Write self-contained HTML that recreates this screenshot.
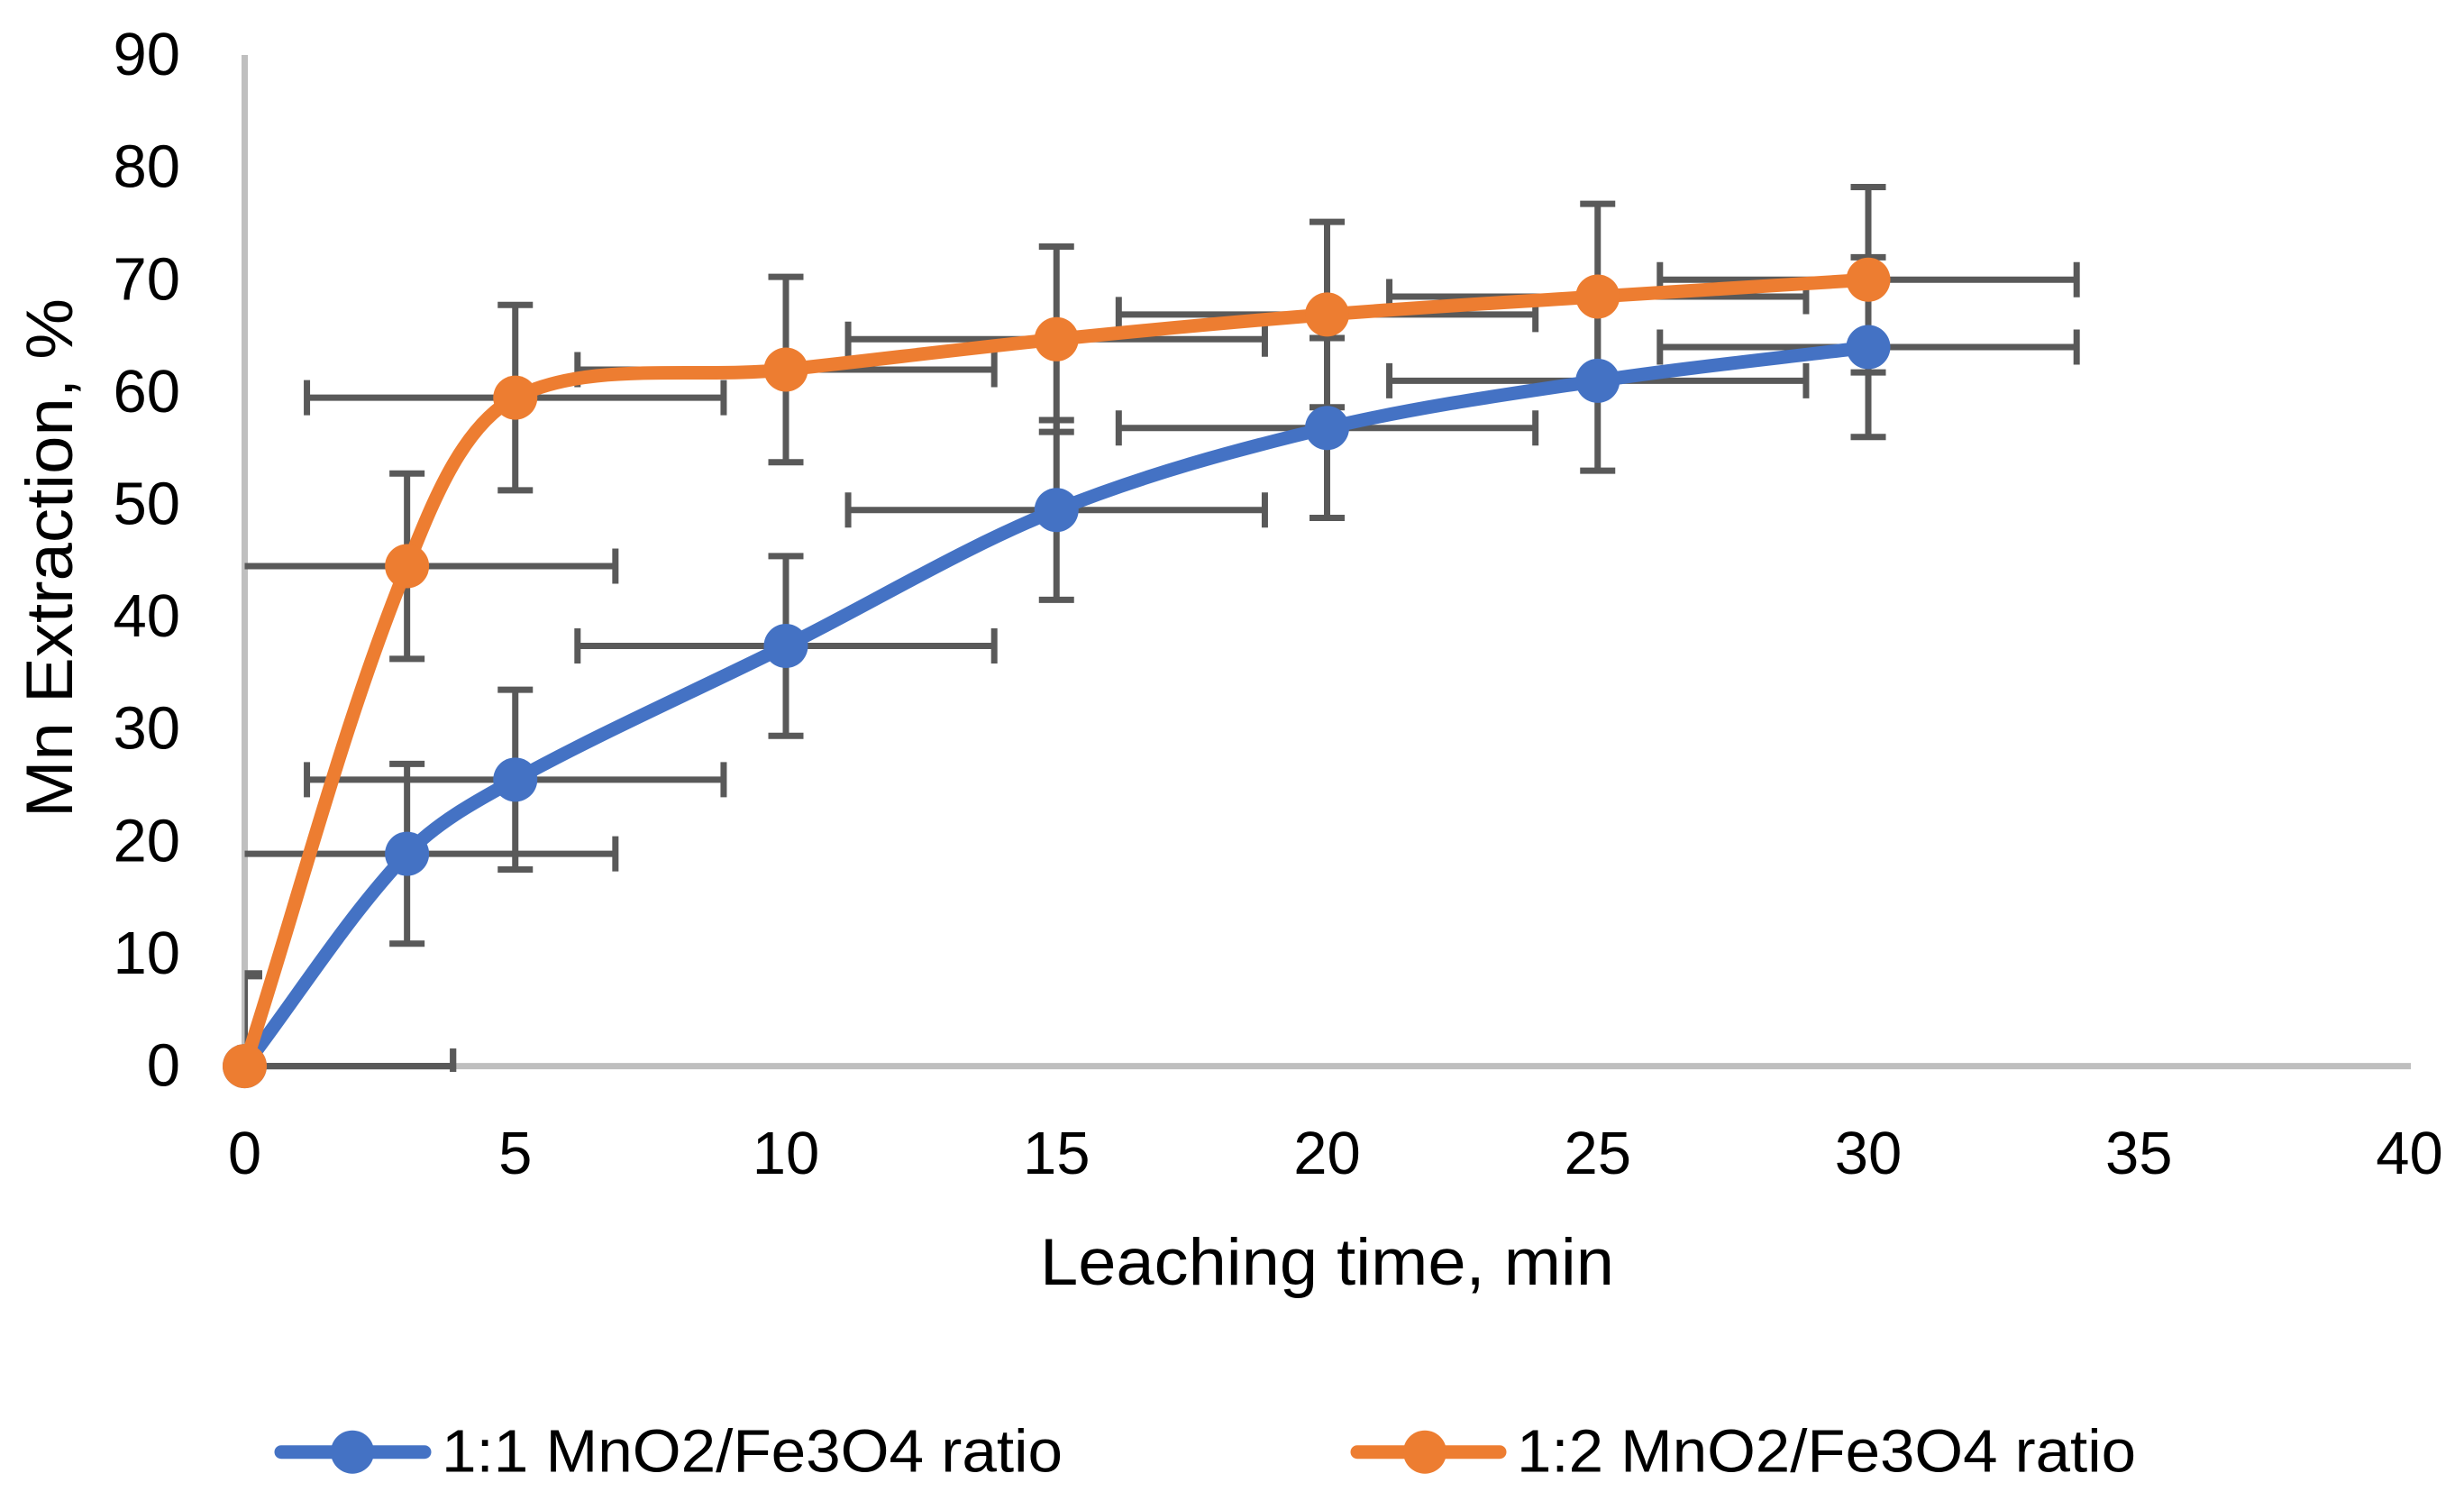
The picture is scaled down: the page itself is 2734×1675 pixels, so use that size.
<!DOCTYPE html>
<html lang="en">
<head>
<meta charset="utf-8">
<title>Mn Extraction vs Leaching time</title>
<style>
html,body{margin:0;padding:0;background:#fff;width:2734px;height:1675px;overflow:hidden}
svg{display:block}
text{font-family:"Liberation Sans",sans-serif;fill:#000}
</style>
</head>
<body>
<svg id="chart" xmlns="http://www.w3.org/2000/svg" width="2734" height="1675" viewBox="0 0 2734 1675">
  <rect x="0" y="0" width="2734" height="1675" fill="#ffffff"/>
  <defs>
    <clipPath id="plot-clip"><rect x="271.5" y="0" width="2440" height="1189"/></clipPath>
  </defs>
  <line x1="271.5" y1="61" x2="271.5" y2="1186" stroke="#BFBFBF" stroke-width="7"/>
  <line x1="268" y1="1182.6" x2="2675" y2="1182.6" stroke="#BFBFBF" stroke-width="7"/>
  <g id="y-ticks"></g>
  <g id="x-ticks"></g>
  <g id="error-bars" clip-path="url(#plot-clip)"></g>
  <g id="series"></g>
  <text x="1154" y="1425" font-size="73" textLength="637" lengthAdjust="spacingAndGlyphs">Leaching time, min</text>
  <text transform="translate(80,907) rotate(-90)" x="0" y="0" font-size="73" textLength="576" lengthAdjust="spacingAndGlyphs">Mn Extraction, %</text>
  <g>
    <g>
      <line x1="312" y1="1610.7" x2="471" y2="1610.7" stroke="#4472C4" stroke-width="15" stroke-linecap="round"/>
      <circle cx="391" cy="1610.7" r="24" fill="#4472C4"/>
      <text x="490" y="1632.7" font-size="67" textLength="689" lengthAdjust="spacingAndGlyphs">1:1 MnO2/Fe3O4 ratio</text>
    </g>
    <g>
      <line x1="1506" y1="1610.7" x2="1664" y2="1610.7" stroke="#ED7D31" stroke-width="15" stroke-linecap="round"/>
      <circle cx="1581" cy="1610.7" r="24" fill="#ED7D31"/>
      <text x="1683" y="1632.7" font-size="67" textLength="687" lengthAdjust="spacingAndGlyphs">1:2 MnO2/Fe3O4 ratio</text>
    </g>
  </g>
</svg>
<script>
const times = [0, 3, 5, 10, 15, 20, 25, 30];
const ratio11 = [0, 18.9, 25.5, 37.4, 49.5, 56.8, 61, 64];
const ratio12 = [0, 44.5, 59.5, 62, 64.7, 66.9, 68.5, 70];
const xError = [3.85];
const ratio11YError = [8];
const ratio12YError = [8.25];
const xTickLabels = [0, 5, 10, 15, 20, 25, 30, 35, 40];
const yTickLabels = [0, 10, 20, 30, 40, 50, 60, 70, 80, 90];

const NS = 'http://www.w3.org/2000/svg';
const xScale = v => 271.5 + v * 60.05;
const yScale = v => 1182.6 - v * 12.462;
const capHalf = 19.5;

function make(tag, attrs, parent) {
  const el = document.createElementNS(NS, tag);
  for (const k in attrs) el.setAttribute(k, attrs[k]);
  parent.appendChild(el);
  return el;
}

const yTicksGroup = document.getElementById('y-ticks');
yTickLabels.forEach(v => {
  const el = make('text', {x: 200, y: yScale(v) + 22, 'font-size': 67, 'text-anchor': 'end'}, yTicksGroup);
  
  
  el.textContent = v;
});

const xTicksGroup = document.getElementById('x-ticks');
xTickLabels.forEach(v => {
  const el = make('text', {x: xScale(v), y: 1302, 'font-size': 67, 'text-anchor': 'middle'}, xTicksGroup);
  
  
  el.textContent = v;
});

function drawErrors(values, yErr, key) {
  const group = document.getElementById('error-bars');
  const style = {stroke: '#595959', 'stroke-width': 7, fill: 'none'};
  times.forEach((t, i) => {
    const cx = xScale(t), cy = yScale(values[i]);
    const xl = xScale(t - xError[0]), xr = xScale(t + xError[0]);
    const yt = yScale(values[i] + yErr), yb = yScale(values[i] - yErr);
    const d = 'M' + xl + ' ' + cy + 'H' + xr +
      'M' + xl + ' ' + (cy - capHalf) + 'V' + (cy + capHalf) +
      'M' + xr + ' ' + (cy - capHalf) + 'V' + (cy + capHalf) +
      'M' + cx + ' ' + yt + 'V' + yb +
      'M' + (cx - capHalf) + ' ' + yt + 'H' + (cx + capHalf) +
      'M' + (cx - capHalf) + ' ' + yb + 'H' + (cx + capHalf);
    const el = make('path', Object.assign({d: d}, style), group);
    
    
  });
}

function dist(a, b) {
  return Math.hypot(a[0] - b[0], a[1] - b[1]);
}

function smoothPath(values) {
  const pts = times.map((t, i) => [xScale(t), yScale(values[i])]);
  let d = 'M' + pts[0][0] + ' ' + pts[0][1];
  for (let i = 0; i < pts.length - 1; i++) {
    const p0 = pts[Math.max(i - 1, 0)], p1 = pts[i], p2 = pts[i + 1], p3 = pts[Math.min(i + 2, pts.length - 1)];
    const d01 = dist(p0, p1), d12 = dist(p1, p2), d23 = dist(p2, p3);
    const s1 = d12 / (d01 + d12) / 3, s2 = d12 / (d12 + d23) / 3;
    const c1x = p1[0] + (p2[0] - p0[0]) * s1, c1y = p1[1] + (p2[1] - p0[1]) * s1;
    const c2x = p2[0] - (p3[0] - p1[0]) * s2, c2y = p2[1] - (p3[1] - p1[1]) * s2;
    d += 'C' + c1x + ' ' + c1y + ' ' + c2x + ' ' + c2y + ' ' + p2[0] + ' ' + p2[1];
  }
  return d;
}

function drawSeries(values, color, key) {
  const group = document.getElementById('series');
  const line = make('path', {d: smoothPath(values), fill: 'none', stroke: color, 'stroke-width': 15, 'stroke-linecap': 'round', 'stroke-linejoin': 'round'}, group);
  
  
  times.forEach((t, i) => {
    const c = make('circle', {cx: xScale(t), cy: yScale(values[i]), r: 24.5, fill: color}, group);
    
    
  });
}

drawErrors(ratio11, ratio11YError[0], 'ratio-1-1');
drawErrors(ratio12, ratio12YError[0], 'ratio-1-2');
drawSeries(ratio11, '#4472C4', 'ratio-1-1');
drawSeries(ratio12, '#ED7D31', 'ratio-1-2');
</script>
</body>
</html>
